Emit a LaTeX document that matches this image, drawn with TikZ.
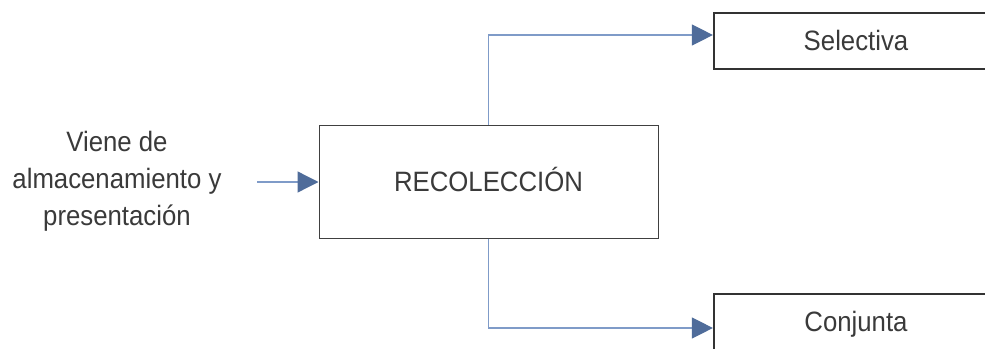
\documentclass[tikz,border=0pt]{standalone}
\usepackage{fontspec}
\setmainfont{Liberation Sans}[FakeStretch=0.92]
\usetikzlibrary{arrows.meta}
\definecolor{linec}{HTML}{7F9BC8}
\definecolor{tipc}{HTML}{4F6C9A}
\definecolor{boxc}{HTML}{404040}
\definecolor{txtc}{HTML}{3A3A3A}
\tikzset{
  conn/.style={draw=linec, line width=1.3pt,
    -{Triangle[length=21pt,width=21pt,color=tipc,fill=tipc]}},
  mainbox/.style={draw=boxc, line width=1pt, minimum width=339pt, minimum height=113pt,
    inner sep=0pt, text height=19pt, text depth=0pt, text=txtc},
  outbox/.style={draw=black!80, line width=2.2pt, minimum width=284pt, minimum height=56pt,
    inner sep=0pt, text height=19pt, text depth=0pt, text=txtc},
  lbl/.style={align=center, inner sep=0pt, text=txtc}
}
\begin{document}
\begin{tikzpicture}[x=1pt,y=-1pt,font=\fontsize{28}{37}\selectfont]
\useasboundingbox (0,0) rectangle (985,348);
\node[mainbox] (rec) at (488.5,181.5) {RECOLECCIÓN};
\node[outbox] (sel) at (856,41) {Selectiva};
\node[outbox] (con) at (856,322) {Conjunta};
\node[lbl] (src) at (117,181) {Viene de\\almacenamiento y\\presentación};
\coordinate (in) at (257,182);
\draw[conn] (in) -- (rec.west |- in);
\draw[conn] (rec.north) |- ([yshift=6pt]sel.west);
\draw[conn] (rec.south) |- ([yshift=-6pt]con.west);
\end{tikzpicture}
\end{document}
